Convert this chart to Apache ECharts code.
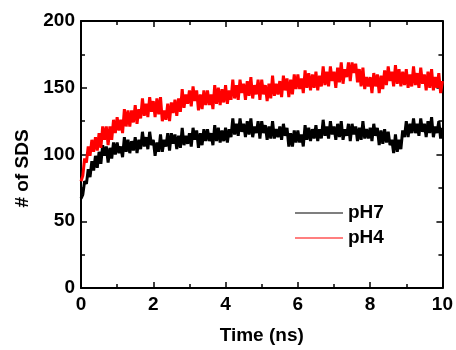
<!DOCTYPE html>
<html>
<head>
<meta charset="utf-8">
<script src="https://cdn.jsdelivr.net/npm/echarts@6/dist/echarts.min.js"></script>
<style>
html,body{margin:0;padding:0;background:#fff;}
#chart{width:456px;height:350px;}
</style>
</head>
<body>
<div id="chart"></div>
<script>
// Time grid: samples every 0.05 ns from 0 to 10 ns
var timeStep = 0.05;
var xTicks = [0, 2, 4, 6, 8, 10];
var yTicks = [0, 50, 100, 150, 200];
var seriesNames = ['pH7', 'pH4'];

var pH7 = [
  67,70,80,78,89,83,95,88,99,90,
  102,93,107,99,106,94,105,97,109,100,
  109,101,106,98,113,102,111,101,110,103,
  113,101,111,104,117,106,113,104,117,107,
  111,99,109,102,115,102,111,106,116,103,
  116,108,115,104,114,105,120,107,114,108,
  116,106,120,111,118,105,116,107,119,110,
  119,110,116,107,122,110,120,109,118,110,
  120,109,119,113,127,115,123,114,127,117,
  123,113,125,115,127,113,121,116,125,112,
  125,116,122,111,121,112,125,112,119,113,
  121,111,123,114,120,106,116,106,118,109,
  118,109,115,106,122,111,120,110,119,112,
  122,110,119,112,126,114,121,112,125,115,
  121,111,123,113,125,111,119,114,123,110,
  123,115,121,110,120,111,125,112,119,112,
  120,110,123,114,120,107,118,108,119,109,
  117,107,111,101,115,102,111,104,118,113,
  125,113,123,116,127,116,123,114,127,117,
  123,113,125,116,128,113,121,116,125,112,
  120
];

var pH4 = [
  80,84,97,94,106,99,111,102,113,103,
  116,105,121,111,121,107,121,111,126,116,
  128,118,126,116,134,121,133,121,133,124,
  137,123,134,127,142,129,138,128,143,132,
  140,128,142,130,143,125,133,126,138,125,
  139,131,141,129,142,132,149,135,145,138,
  148,136,151,140,148,133,145,134,148,137,
  148,137,145,134,152,138,150,137,149,139,
  152,138,148,141,156,142,152,141,156,146,
  153,141,155,144,158,142,152,145,156,141,
  156,145,152,140,153,142,159,144,153,145,
  155,143,159,148,157,143,156,145,160,149,
  160,149,157,146,163,150,161,148,160,150,
  162,148,159,151,166,152,162,151,166,155,
  162,150,165,154,169,153,164,158,169,155,
  169,161,168,154,164,151,165,149,158,151,
  158,146,161,151,160,146,159,149,163,152,
  166,155,162,151,167,153,164,151,162,152,
  164,150,160,151,166,152,161,150,165,153,
  160,148,162,150,164,148,158,150,161,146,
  155
];

function pairs(arr) {
  return arr.map(function (v, i) { return [+(i * timeStep).toFixed(2), v]; });
}

var FONT = 'Liberation Sans, Arial, sans-serif';
var labelStyle = {fontSize: 19, fontWeight: 'bold', color: '#000', fontFamily: FONT};

function xAx(pos, showLabels) {
  return {
    type: 'value', position: pos,
    min: xTicks[0], max: xTicks[xTicks.length - 1], interval: xTicks[1] - xTicks[0],
    axisLine: {show: true, onZero: false, lineStyle: {color: '#000', width: 2}},
    axisTick: {show: true, inside: true, length: 6, lineStyle: {color: '#000', width: 1.5}},
    minorTick: {show: true, splitNumber: 2, length: 4, lineStyle: {color: '#000', width: 1.5}},
    splitLine: {show: false},
    axisLabel: Object.assign({show: showLabels, margin: 7}, labelStyle),
    name: showLabels ? 'Time (ns)' : '',
    nameLocation: 'middle', nameGap: 38,
    nameTextStyle: labelStyle
  };
}
function yAx(pos, showLabels) {
  return {
    type: 'value', position: pos,
    min: yTicks[0], max: yTicks[yTicks.length - 1], interval: yTicks[1] - yTicks[0],
    axisLine: {show: true, onZero: false, lineStyle: {color: '#000', width: 2}},
    axisTick: {show: true, inside: true, length: 6, lineStyle: {color: '#000', width: 1.5}},
    minorTick: {show: true, splitNumber: 2, length: 4, lineStyle: {color: '#000', width: 1.5}},
    splitLine: {show: false},
    axisLabel: Object.assign({show: showLabels, margin: 6}, labelStyle),
    name: showLabels ? '# of SDS' : '',
    nameLocation: 'middle', nameGap: 48,
    nameTextStyle: Object.assign({padding: [0, 28, 0, 0]}, labelStyle)
  };
}

var legendText = Object.assign({lineHeight: 20, padding: [0, 0, 0, 0]}, labelStyle);
function legendAt(name, top) {
  return {data: [name], left: 290, top: top, orient: 'vertical', icon: 'rect',
    itemWidth: 48, itemHeight: 1, itemGap: 0, textStyle: legendText,
    itemStyle: {borderWidth: 0}, lineStyle: {width: 1.5}};
}

var chart = echarts.init(document.getElementById('chart'), null, {renderer: 'canvas'});
chart.setOption({
  animation: false,
  backgroundColor: '#fff',
  grid: {left: 81, right: 12, top: 21, bottom: 59},
  legend: [legendAt(seriesNames[0], 198), legendAt(seriesNames[1], 223)],
  xAxis: [xAx('bottom', true), xAx('top', false)],
  yAxis: [yAx('left', true), yAx('right', false)],
  series: [
    {name: seriesNames[0], type: 'line', data: pairs(pH7), showSymbol: false, symbol: 'none',
     sampling: null, color: '#000000', lineStyle: {width: 3, color: '#000000'}, xAxisIndex: 0, yAxisIndex: 0},
    {name: seriesNames[1], type: 'line', data: pairs(pH4), showSymbol: false, symbol: 'none',
     sampling: null, color: '#ff0000', lineStyle: {width: 3, color: '#ff0000'}, xAxisIndex: 0, yAxisIndex: 0}
  ]
});
</script>
</body>
</html>
